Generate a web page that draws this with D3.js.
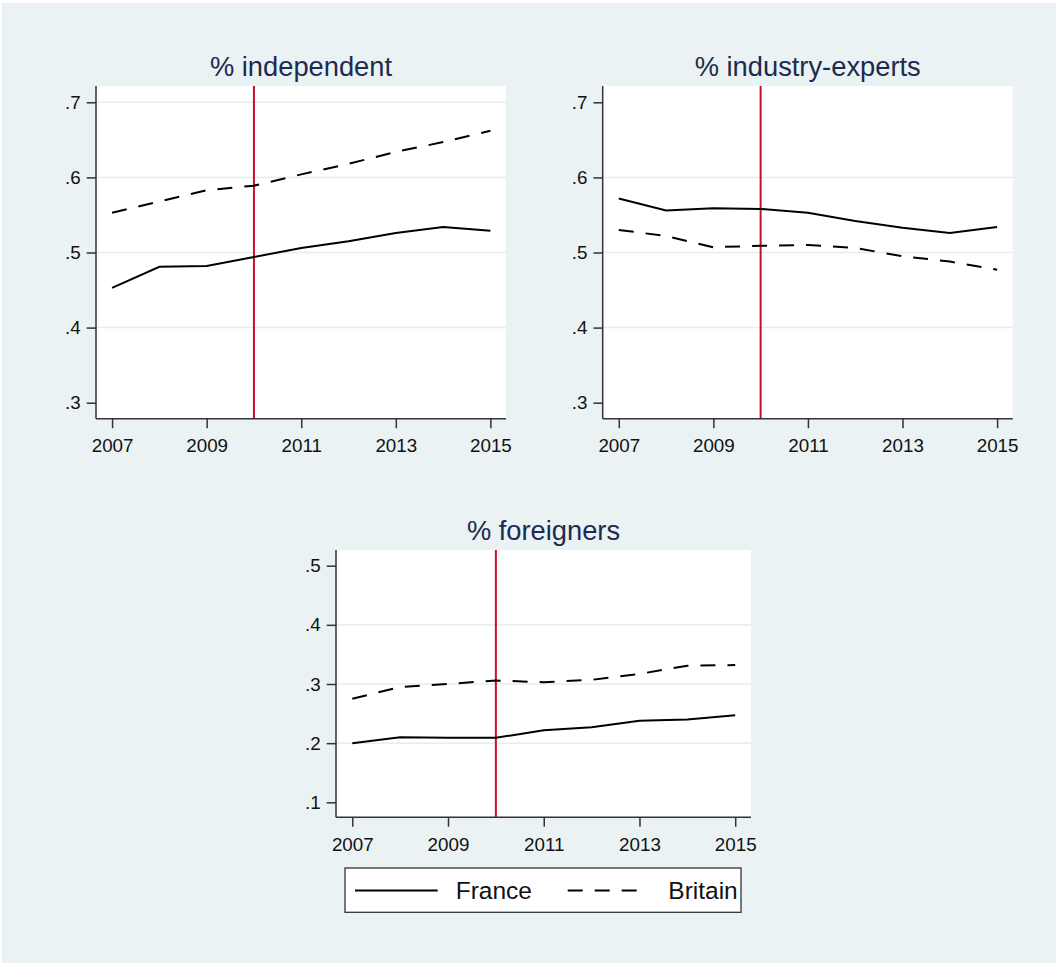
<!DOCTYPE html>
<html>
<head>
<meta charset="utf-8">
<script src="https://cdn.jsdelivr.net/npm/d3@7/dist/d3.min.js"></script>
<style>
  html, body { margin: 0; padding: 0; background: #ffffff; }
  svg { display: block; }
  text { font-family: "Liberation Sans", Arial, sans-serif; }
</style>
</head>
<body>
<svg id="chart" width="1058" height="965"></svg>
<script>
// Years observed
const years = [2007, 2008, 2009, 2010, 2011, 2012, 2013, 2014, 2015];
const xTickYears = [2007, 2009, 2011, 2013, 2015];
const reformYear = 2010;

// Series names (legend order)
const seriesNames = ["France", "Britain"];

// Share of independent board members
const independentFrance  = [0.453, 0.481, 0.482, 0.494, 0.506, 0.515, 0.526, 0.534, 0.529];
const independentBritain = [0.553, 0.568, 0.583, 0.589, 0.604, 0.618, 0.634, 0.647, 0.662];

// Share of industry experts
const expertsFrance  = [0.572, 0.556, 0.559, 0.558, 0.553, 0.542, 0.533, 0.526, 0.534];
const expertsBritain = [0.530, 0.522, 0.507, 0.509, 0.510, 0.506, 0.495, 0.488, 0.477];

// Share of foreign board members
const foreignFrance  = [0.200, 0.210, 0.209, 0.209, 0.222, 0.227, 0.238, 0.240, 0.247];
const foreignBritain = [0.275, 0.295, 0.300, 0.306, 0.303, 0.307, 0.317, 0.331, 0.332];

// Axis ticks
const yTicksUpper = [0.3, 0.4, 0.5, 0.6, 0.7];
const yTicksLower = [0.1, 0.2, 0.3, 0.4, 0.5];

const panels = [
  { title: "% independent",      france: independentFrance, britain: independentBritain,
    yTicks: yTicksUpper, yDomain: [0.2787, 0.7217], grid: [0.4, 0.5, 0.6, 0.7],
    left: 96, right: 506, top: 86, bottom: 418.7 },
  { title: "% industry-experts", france: expertsFrance, britain: expertsBritain,
    yTicks: yTicksUpper, yDomain: [0.2787, 0.7217], grid: [0.4, 0.5, 0.6],
    left: 602.7, right: 1012.7, top: 86, bottom: 418.7 },
  { title: "% foreigners",       france: foreignFrance, britain: foreignBritain,
    yTicks: yTicksLower, yDomain: [0.0747, 0.5265], grid: [0.2, 0.3, 0.4],
    left: 336, right: 751, top: 550, bottom: 817.3 }
];

const xDomain = [2006.66, 2015.33];
const dash = "15,12";
const lineColor = "#000000";
const reformColor = "#c8102e";
const axisColor = "#333333";
const gridColor = "#e4edf0";
const bgColor = "#eaf2f3";
const titleColor = "#1c2b4f";

const svg = d3.select("#chart");

// Graph region background
svg.append("rect")
  .attr("x", 2).attr("y", 3)
  .attr("width", 1054).attr("height", 960)
  .attr("fill", bgColor);

const fmt = v => d3.format(".1f")(v).replace(/^0/, "");

panels.forEach(p => {
  const x = d3.scaleLinear().domain(xDomain).range([p.left, p.right]);
  const y = d3.scaleLinear().domain(p.yDomain).range([p.bottom, p.top]);
  const g = svg.append("g");

  // Plot region
  g.append("rect")
    .attr("x", p.left).attr("y", p.top)
    .attr("width", p.right - p.left).attr("height", p.bottom - p.top)
    .attr("fill", "#ffffff");

  // Horizontal grid lines
  g.selectAll("line.grid").data(p.grid).enter().append("line")
    .attr("class", "grid")
    .attr("x1", p.left).attr("x2", p.right)
    .attr("y1", d => y(d)).attr("y2", d => y(d))
    .attr("stroke", gridColor).attr("stroke-width", 1.5);

  // Title
  g.append("text")
    .attr("x", (p.left + p.right) / 2)
    .attr("y", p.top - 10.5)
    .attr("text-anchor", "middle")
    .attr("font-size", 27.3)
    .attr("fill", titleColor)
    .text(p.title);

  // Reform line
  g.append("line")
    .attr("x1", x(reformYear)).attr("x2", x(reformYear))
    .attr("y1", p.top).attr("y2", p.bottom)
    .attr("stroke", reformColor).attr("stroke-width", 2);

  const line = d3.line().x((d, i) => x(years[i])).y(d => y(d));

  // Britain (dashed)
  g.append("path")
    .datum(p.britain)
    .attr("d", line)
    .attr("fill", "none")
    .attr("stroke", lineColor).attr("stroke-width", 2)
    .attr("stroke-dasharray", dash);

  // France (solid)
  g.append("path")
    .datum(p.france)
    .attr("d", line)
    .attr("fill", "none")
    .attr("stroke", lineColor).attr("stroke-width", 2);

  // Axes
  const xAxis = d3.axisBottom(x).tickValues(xTickYears).tickFormat(d3.format("d"))
    .tickSize(9.5).tickPadding(10.8).tickSizeOuter(0);
  const yAxis = d3.axisLeft(y).tickValues(p.yTicks).tickFormat(fmt)
    .tickSize(9.3).tickPadding(6).tickSizeOuter(0);

  const gx = g.append("g").attr("transform", `translate(0,${p.bottom})`).call(xAxis);
  const gy = g.append("g").attr("transform", `translate(${p.left},0)`).call(yAxis);

  [gx, gy].forEach(a => {
    a.select(".domain").attr("stroke", axisColor).attr("stroke-width", 1.5);
    a.selectAll(".tick line").attr("stroke", axisColor).attr("stroke-width", 1.5);
    a.selectAll(".tick text").attr("font-size", 18.8).attr("fill", "#111111")
      .attr("font-family", "'Liberation Sans', Arial, sans-serif");
  });
  // extend x axis line across full plot width
  gx.select(".domain").attr("d", `M${p.left},0H${p.right}`);
  gy.select(".domain").attr("d", `M0,${p.top}V${p.bottom}`);
});

// Legend
const legend = svg.append("g");
legend.append("rect")
  .attr("x", 345).attr("y", 868)
  .attr("width", 396).attr("height", 44.3)
  .attr("fill", "#ffffff")
  .attr("stroke", axisColor).attr("stroke-width", 1.3);

const legendItems = [
  { name: seriesNames[0], x1: 355, x2: 437.7, tx: 455.7, dash: null },
  { name: seriesNames[1], x1: 567.7, x2: 644, tx: 668.3, dash: dash }
];
legendItems.forEach(it => {
  legend.append("line")
    .attr("x1", it.x1).attr("x2", it.x2)
    .attr("y1", 890.5).attr("y2", 890.5)
    .attr("stroke", lineColor).attr("stroke-width", 2)
    .attr("stroke-dasharray", it.dash);
  legend.append("text")
    .attr("x", it.tx).attr("y", 899.3)
    .attr("font-size", 24.5)
    .attr("fill", "#111111")
    .text(it.name);
});
</script>
</body>
</html>
